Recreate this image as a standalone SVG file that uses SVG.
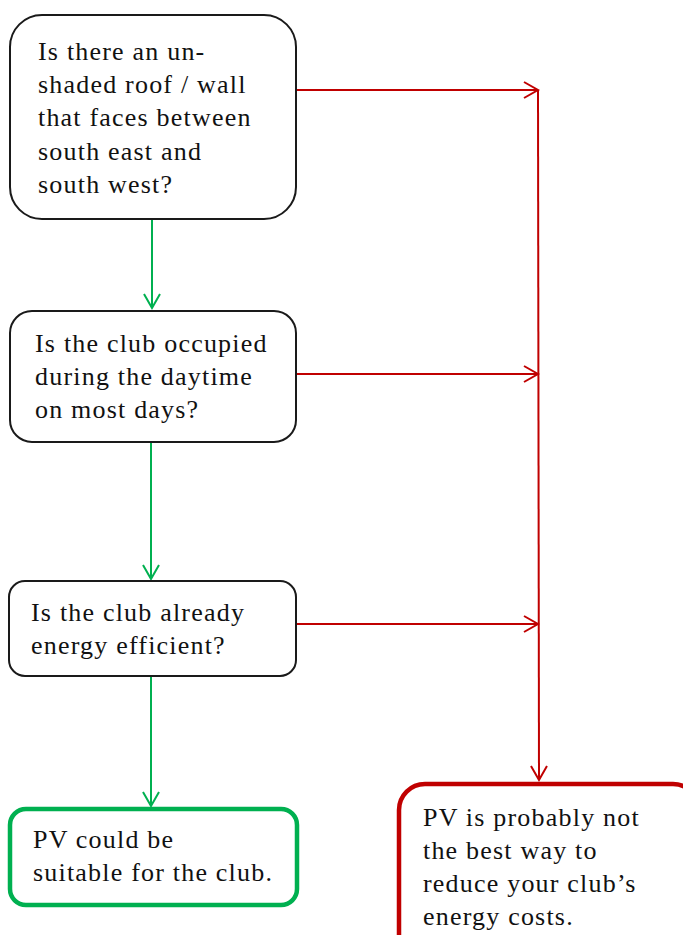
<svg xmlns="http://www.w3.org/2000/svg" width="683" height="935" viewBox="0 0 683 935">
<defs>
<style>
.box{fill:#fff;stroke:#1a1a1a;stroke-width:2}
.yes{fill:#fff;stroke:#00b050;stroke-width:4.5}
.no{fill:#fff;stroke:#c00000;stroke-width:4.5}
.t{font-family:"Liberation Serif","DejaVu Serif",serif;font-size:26px;letter-spacing:1.2px;fill:#111}
.g{stroke:#00b050;stroke-width:2;fill:none}
.r{stroke:#c00000;stroke-width:2;fill:none}
</style>
<marker id="ag" markerWidth="20" markerHeight="20" viewBox="-16 -10 20 20" refX="0" refY="0" orient="auto" markerUnits="userSpaceOnUse">
<path d="M-14,-8 L0,0 L-14,8" fill="none" stroke="#00b050" stroke-width="2"/>
</marker>
<marker id="ar" markerWidth="20" markerHeight="20" viewBox="-16 -10 20 20" refX="0" refY="0" orient="auto" markerUnits="userSpaceOnUse">
<path d="M-14,-8 L0,0 L-14,8" fill="none" stroke="#c00000" stroke-width="2"/>
</marker>
</defs>
<rect width="683" height="935" fill="#fff"/>
<g id="connectors">
<line class="g" x1="152" y1="220" x2="152" y2="308" marker-end="url(#ag)"/>
<line class="g" x1="151" y1="443" x2="151" y2="579" marker-end="url(#ag)"/>
<line class="g" x1="151" y1="677" x2="151" y2="806" marker-end="url(#ag)"/>
<line class="r" x1="297" y1="90" x2="538" y2="90" marker-end="url(#ar)"/>
<line class="r" x1="297" y1="374" x2="538" y2="374" marker-end="url(#ar)"/>
<line class="r" x1="297" y1="624" x2="538" y2="624" marker-end="url(#ar)"/>
<line class="r" x1="538" y1="90" x2="539" y2="780" marker-end="url(#ar)"/>
</g>
<g id="q1">
<rect class="box" x="10" y="15" width="286" height="204" rx="32"/>
<text class="t"><tspan x="38" y="60">Is there an un-</tspan><tspan x="38" y="93">shaded roof / wall</tspan><tspan x="38" y="126">that faces between</tspan><tspan x="38" y="160">south east and</tspan><tspan x="38" y="193">south west?</tspan></text>
</g>
<g id="q2">
<rect class="box" x="10" y="311" width="286" height="131" rx="22"/>
<text class="t"><tspan x="35" y="352">Is the club occupied</tspan><tspan x="35" y="385">during the daytime</tspan><tspan x="35" y="418">on most days?</tspan></text>
</g>
<g id="q3">
<rect class="box" x="9" y="581" width="287" height="95" rx="16"/>
<text class="t"><tspan x="31" y="621">Is the club already</tspan><tspan x="31" y="654">energy efficient?</tspan></text>
</g>
<g id="yes">
<rect class="yes" x="10" y="809" width="287" height="96" rx="16"/>
<text class="t"><tspan x="33" y="848">PV could be</tspan><tspan x="33" y="881">suitable for the club.</tspan></text>
</g>
<g id="no">
<rect class="no" x="399" y="784" width="300" height="180" rx="26"/>
<text class="t"><tspan x="423" y="826">PV is probably not</tspan><tspan x="423" y="859">the best way to</tspan><tspan x="423" y="892">reduce your club’s</tspan><tspan x="423" y="925">energy costs.</tspan></text>
</g>
</svg>
